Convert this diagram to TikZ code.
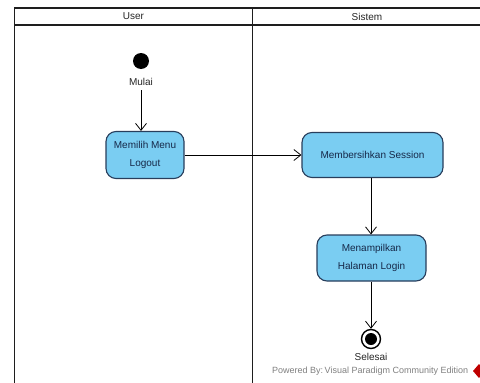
\documentclass[tikz,border=0pt]{standalone}
\usepackage{fontspec}
\setmainfont{Liberation Sans}
\usetikzlibrary{arrows.meta}
\definecolor{actfill}{RGB}{122,205,242}
\definecolor{actdraw}{RGB}{40,62,92}
\definecolor{acttext}{RGB}{22,40,72}
\definecolor{lanecol}{RGB}{30,30,30}
\tikzset{
  act/.style={draw=actdraw, line width=1.1pt, fill=actfill, rounded corners=10pt,
    text=acttext, font=\fontsize{10}{18}\selectfont, align=center, inner sep=0pt},
  flow/.style={draw=black, line width=0.8pt, -{Straight Barb[length=7pt,width=11pt,line width=0.8pt]}},
  lane/.style={draw=lanecol, line width=1.9pt},
  lbl/.style={font=\fontsize{10}{12}\selectfont, text=black!85, inner sep=0pt}
}
\begin{document}
\begin{tikzpicture}[x=1pt,y=-1pt]
\useasboundingbox (0,0) rectangle (480,383);
\fill[white] (0,0) rectangle (480,383);
% swimlanes
\draw[lane] (480,8) -- (14.5,8) -- (14.5,383);
\draw[lane] (14.5,25) -- (480,25);
\draw[lane] (252.5,8) -- (252.5,383);
\node[lbl] (lu) at (133.5,16.5) {User};
\node[lbl] (ls) at (367,16.5) {Sistem};
% start
\node[circle, fill=black, minimum size=16pt, inner sep=0pt] (start) at (141,61) {};
\node[lbl] (mulai) at (141,82) {Mulai};
% activities
\node[act, minimum width=78pt, minimum height=47pt] (a1) at (145,155) {Memilih Menu\\Logout};
\node[act, minimum width=141pt, minimum height=45pt] (a2) at (372.5,155) {Membersihkan Session};
\node[act, minimum width=109pt, minimum height=46pt] (a3) at (371.5,258) {Menampilkan\\Halaman Login};
% end
\node[circle, draw=black, line width=1.4pt, fill=white, minimum size=19pt, inner sep=0pt] (end) at (371,339) {};
\fill[black] (end.center) circle (6pt);
\node[lbl] (selesai) at (371,357) {Selesai};
% flows
\coordinate (s1) at (141,90);
\draw[flow] (s1) -- (a1.north -| s1);
\draw[flow] (a1.east) -- (a2.west);
\draw[flow] (a2.south -| 371,0) -- (a3.north -| 371,0);
\draw[flow] (a3.south -| end) -- (end.north);
% watermark
\node[font=\fontsize{9}{11}\selectfont, text=black!50, anchor=west, inner sep=0pt] (wm) at (272,371.5) {Powered By:\,Visual Paradigm Community Edition};
\fill[red!75!black] (479,364) -- (485,371) -- (479,378) -- (473,371) -- cycle;
\end{tikzpicture}
\end{document}
